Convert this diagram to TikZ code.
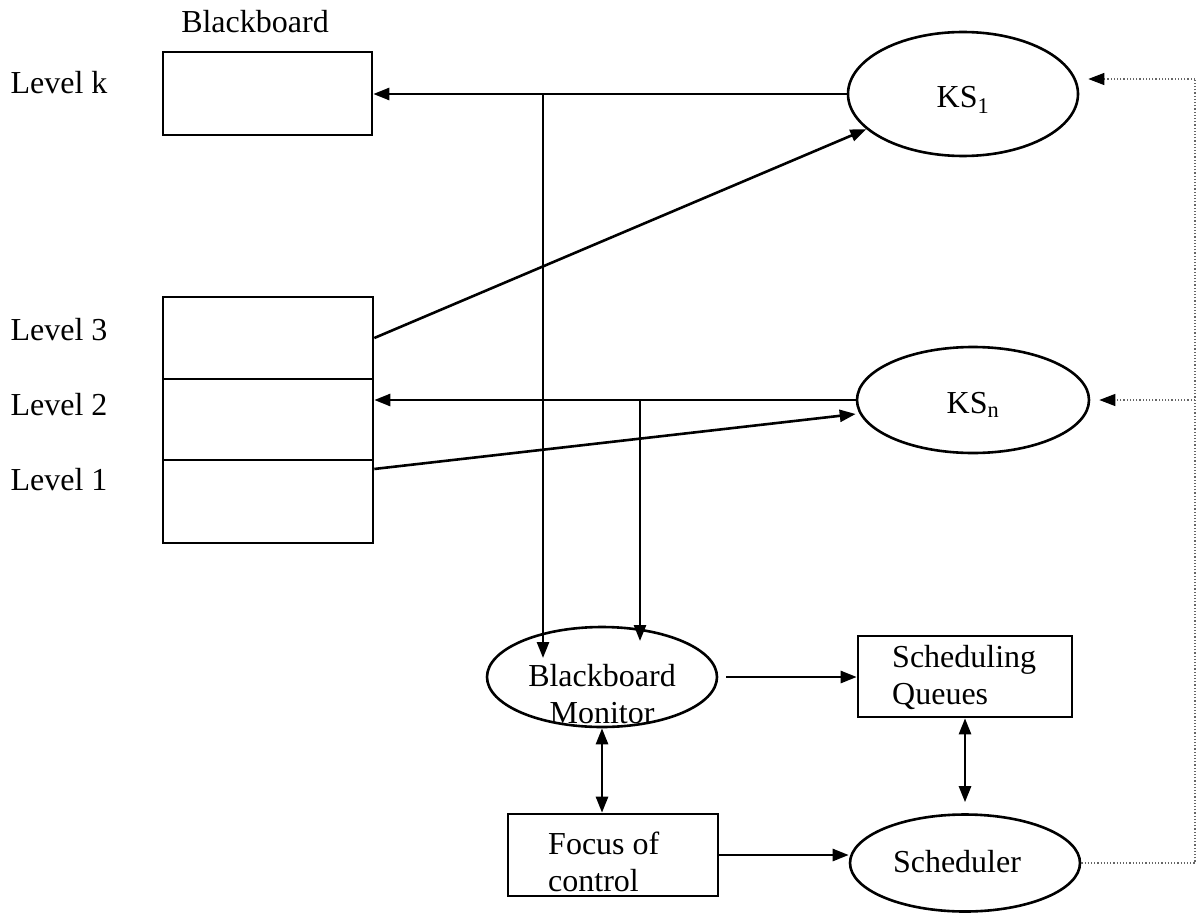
\documentclass[tikz,border=0pt]{standalone}
\usepackage{fontspec}
\setmainfont{Liberation Serif}
\usetikzlibrary{arrows.meta,shapes.geometric,calc}
\tikzset{
  tip/.tip={Triangle[length=16pt,width=12pt]},
  btip/.tip={Triangle[length=16pt,width=12pt,black]},
  ln/.style={line width=2.6pt,black},
  arr/.style={ln,-tip},
  darr/.style={ln,tip-tip},
  dotln/.style={line width=1.2pt,dotted,black!60},
  box/.style={draw,line width=2.6pt,rectangle,inner sep=0pt},
  ell/.style={draw,line width=2.6pt,ellipse,inner sep=0pt},
  lbl/.style={font=\fontsize{32}{37}\selectfont,inner sep=0pt},
}
\begin{document}
\begin{tikzpicture}[x=1pt,y=-1pt]
\useasboundingbox (0,0) rectangle (1201,915);
% blackboard
\node[lbl] (bbt) at (255,22) {Blackboard};
\node[box,minimum width=209pt,minimum height=83pt] (lk) at (267.5,93.5) {};
\node[box,minimum width=210pt,minimum height=82pt] (l3) at (268,338) {};
\node[box,minimum width=210pt,minimum height=81pt] (l2) at (268,419.5) {};
\node[box,minimum width=210pt,minimum height=83pt] (l1) at (268,501.5) {};
\node[lbl] (tk) at (59,83) {Level k};
\node[lbl] (t3) at (59,330) {Level 3};
\node[lbl] (t2) at (59,405) {Level 2};
\node[lbl] (t1) at (59,480) {Level 1};
% knowledge sources
\node[ell,minimum width=230pt,minimum height=124pt] (ks1) at (963,94) {};
\node[lbl] (ks1t) at (963,100) {KS\textsubscript{1}};
\node[ell,minimum width=232pt,minimum height=106pt] (ksn) at (973,400) {};
\node[lbl] (ksnt) at (973,405) {KS\textsubscript{n}};
% control
\node[ell,minimum width=230pt,minimum height=100pt] (bm) at (602,677) {};
\node[lbl,align=center] (bmt) at (602,694) {Blackboard\\Monitor};
\node[box,minimum width=214pt,minimum height=81pt] (sq) at (965,676.5) {};
\node[lbl,align=left,anchor=west] (sqt) at (892,677) {Scheduling\\Queues};
\node[box,minimum width=210pt,minimum height=82pt] (fc) at (613,855) {};
\node[lbl,align=left,anchor=west] (fct) at (548,862) {Focus of\\control};
\node[ell,minimum width=230pt,minimum height=97pt] (sch) at (965,863) {};
\node[lbl] (scht) at (957,862) {Scheduler};
% coordinates
\coordinate (j1) at (543,94);
\coordinate (j2) at (640,400);
\coordinate (b1) at (543,658);
\coordinate (b2) at (640,641);
\coordinate (dtop) at (1195,79);
\coordinate (l1o) at ($(l1.north east)!0.12!(l1.south east)$);
% connectors
\draw[arr] (ks1.west) -- (ks1.west -| lk.east);
\draw[arr] (j1) -- (b1);
\draw[arr] (l3.east) -- (ks1.200);
\draw[arr] (ksn.west) -- (ksn.west -| l2.east);
\draw[arr] (j2) -- (b2);
\draw[arr] (l1o) -- ([yshift=-14pt]ksn.west);
\draw[arr,shorten <=8pt] (bm.east) -- (bm.east -| sq.west);
\draw[darr] (bm.south) -- (bm.south |- fc.north);
\draw[darr,shorten >=11pt] (sq.south) -- (sq.south |- sch.north);
\draw[arr] (fc.east) -- (fc.east -| sch.west);
\draw[dotln] (sch.east) -- (sch.east -| dtop) -- (dtop);
\draw[dotln,-btip,shorten >=9pt] (dtop) -- (dtop -| ks1.east);
\draw[dotln,-btip,shorten >=9pt] (dtop |- ksn.east) -- (ksn.east);
\end{tikzpicture}
\end{document}
